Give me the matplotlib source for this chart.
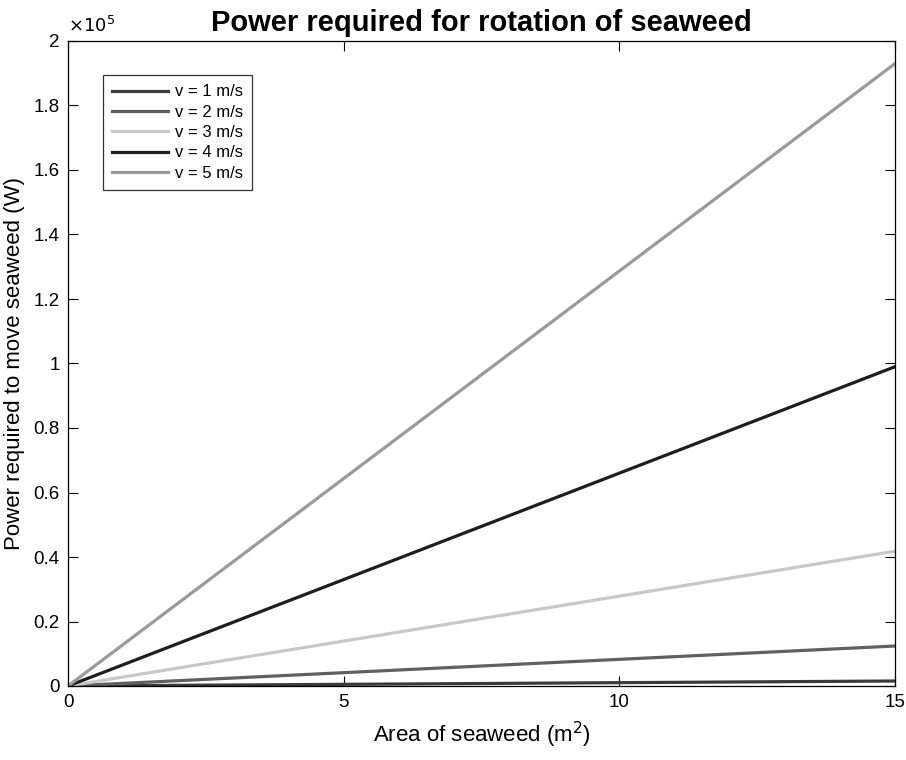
import matplotlib
matplotlib.use("Agg")
import matplotlib.pyplot as plt

plt.rcParams["font.family"] = ["Liberation Sans", "DejaVu Sans"]

# endpoints of each line (area m^2 -> power W)
area = [0, 15]
labels = ["v = 1 m/s", "v = 2 m/s", "v = 3 m/s", "v = 4 m/s", "v = 5 m/s"]
power = [
    [0, 1550],
    [0, 12400],
    [0, 41800],
    [0, 99000],
    [0, 193000],
]
colors = ["#3a3a3a", "#606060", "#c8c8c8", "#1e1e1e", "#9a9a9a"]

yticks = [0, 20000, 40000, 60000, 80000, 100000, 120000, 140000, 160000, 180000, 200000]
yticklabels = ["0", "0.2", "0.4", "0.6", "0.8", "1", "1.2", "1.4", "1.6", "1.8", "2"]
xticks = [0, 5, 10, 15]

fig = plt.figure(figsize=(9.06, 7.6), dpi=100)
ax = fig.add_axes([68 / 906, 1 - 686 / 760, 827 / 906, 645 / 760])

for p, lab, c in zip(power, labels, colors):
    ax.plot(area, p, color=c, lw=2.3, label=lab)

ax.set_xlim(0, 15)
ax.set_ylim(0, 200000)
ax.set_xticks(xticks)
ax.set_xticklabels([str(t) for t in xticks])
ax.set_yticks(yticks)
ax.set_yticklabels(yticklabels)
ax.tick_params(direction="in", length=7, width=0.8, labelsize=13.5,
               top=True, right=True, pad=6)
for s in ax.spines.values():
    s.set_linewidth(0.9)

ax.text(0, 1.008, r"$\times10^5$", transform=ax.transAxes, fontsize=13,
        ha="left", va="bottom")
ax.set_title("Power required for rotation of seaweed", fontsize=21,
             fontweight="bold", pad=7)
ax.set_xlabel("Area of seaweed (m$^2$)", fontsize=16, labelpad=6)
ax.set_ylabel("Power required to move seaweed (W)", fontsize=16, labelpad=6)

leg = ax.legend(loc="upper left", bbox_to_anchor=(0.042, 0.947), fontsize=12,
                frameon=True, fancybox=False, edgecolor="black",
                handlelength=3.35, borderpad=0.55, labelspacing=0.32,
                handletextpad=0.42, borderaxespad=0)
leg.get_frame().set_linewidth(0.9)

fig.savefig("out.png", dpi=100)
